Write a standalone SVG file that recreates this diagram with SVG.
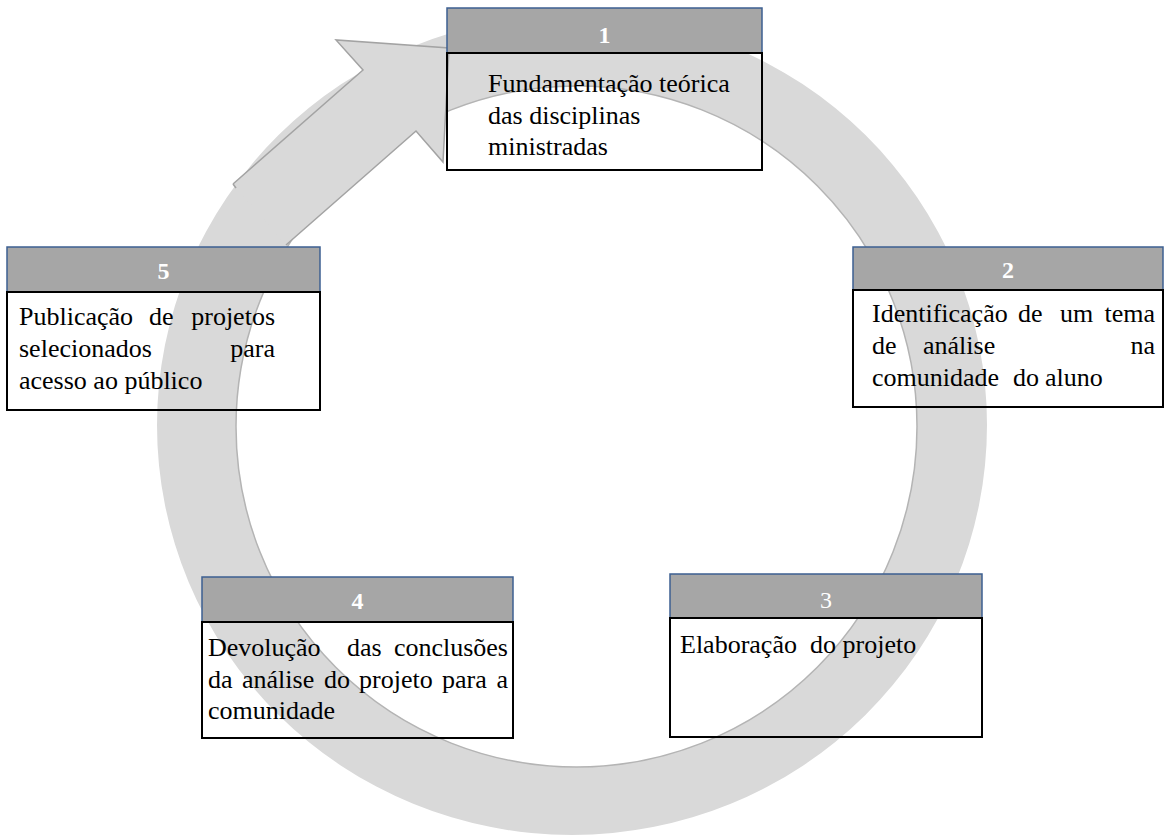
<svg xmlns="http://www.w3.org/2000/svg" width="1164" height="838" viewBox="0 0 1164 838">
<style>
.hdr{fill:#a6a6a6;stroke:#3c5f91;stroke-width:1.5}
.body{fill:none;stroke:#000;stroke-width:2}
.num{font-family:"Liberation Serif","Times New Roman",serif;font-size:24px;font-weight:bold;fill:#fff;text-anchor:middle}
.t{font-family:"Liberation Serif","Times New Roman",serif;font-size:26px;fill:#000}
.e{text-anchor:end}
</style>
<rect width="1164" height="838" fill="#fff"/>
<g id="connectors">
<path d="M157 425 A415 410 0 1 0 987 425 A415 410 0 1 0 157 425 Z M236 426.5 A340.5 340.5 0 1 1 917 426.5 A340.5 340.5 0 1 1 236 426.5 Z" fill="#d9d9d9" fill-rule="evenodd"/>
<circle cx="576.5" cy="426.5" r="340.5" fill="none" stroke="#b4b4b4" stroke-width="1.5"/>
<polygon points="233,184 363,70 336,40 449,48 443,162 416,131 286,245" fill="#d9d9d9"/>
<polyline points="233,184 363,70 336,40 449,48 443,162 416,131 286,245" fill="none" stroke="#a3a3a3" stroke-width="1.5" stroke-linejoin="miter"/>
<path d="M233,184 L236,188" stroke="#a3a3a3" stroke-width="1.5"/>
</g>
<g id="node1">
<rect class="hdr" x="447" y="8" width="315" height="45"/>
<rect class="body" x="447" y="53" width="315" height="117"/>
<text class="num" x="604.5" y="43">1</text>
<text class="t" x="488" y="92">Fundamentação teórica</text>
<text class="t" x="488" y="124">das disciplinas</text>
<text class="t" x="488" y="155">ministradas</text>
</g>
<g id="node2">
<rect class="hdr" x="853" y="247" width="310" height="43"/>
<rect class="body" x="853" y="290" width="310" height="117"/>
<text class="num" x="1008" y="278">2</text>
<text class="t" y="322"><tspan x="872">Identificação</tspan><tspan x="1018">de</tspan><tspan x="1060">um</tspan></text>
<text class="t e" x="1155" y="322">tema</text>
<text class="t" y="354"><tspan x="872">de</tspan><tspan x="923">análise</tspan></text>
<text class="t e" x="1155" y="354">na</text>
<text class="t" y="386"><tspan x="872">comunidade</tspan><tspan x="1013">do</tspan><tspan x="1045">aluno</tspan></text>
</g>
<g id="node3">
<rect class="hdr" x="670" y="574" width="312" height="44"/>
<rect class="body" x="670" y="618" width="312" height="119"/>
<text class="num" x="826" y="608" style="font-weight:normal">3</text>
<text class="t" y="653"><tspan x="680">Elaboração</tspan><tspan x="810">do projeto</tspan></text>
</g>
<g id="node4">
<rect class="hdr" x="202" y="577" width="311" height="45"/>
<rect class="body" x="202" y="622" width="311" height="116"/>
<text class="num" x="357.5" y="609">4</text>
<text class="t" y="656"><tspan x="208">Devolução</tspan><tspan x="347">das</tspan></text>
<text class="t e" x="508" y="656">conclusões</text>
<text class="t" y="688"><tspan x="208">da</tspan><tspan x="242">análise</tspan><tspan x="324">do</tspan><tspan x="359">projeto</tspan><tspan x="442">para</tspan></text>
<text class="t e" x="508" y="688">a</text>
<text class="t" x="208" y="719">comunidade</text>
</g>
<g id="node5">
<rect class="hdr" x="7" y="247" width="313" height="45"/>
<rect class="body" x="7" y="292" width="313" height="118"/>
<text class="num" x="163.5" y="279">5</text>
<text class="t" y="325"><tspan x="19">Publicação</tspan><tspan x="149">de</tspan></text>
<text class="t e" x="275" y="325">projetos</text>
<text class="t" x="19" y="357">selecionados</text>
<text class="t e" x="275" y="357">para</text>
<text class="t" x="19" y="389">acesso ao público</text>
</g>
</svg>
